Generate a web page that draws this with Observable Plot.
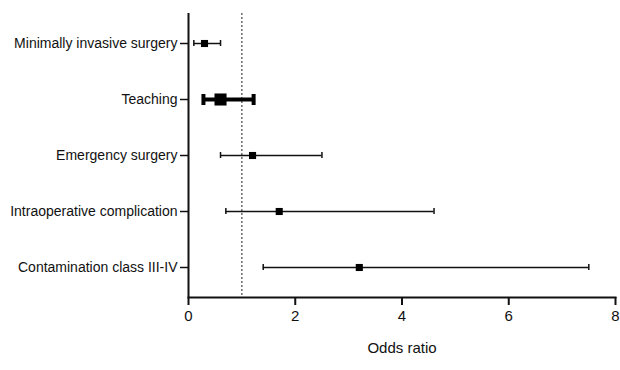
<!DOCTYPE html>
<html>
<head>
<meta charset="utf-8">
<script src="https://cdn.jsdelivr.net/npm/d3@7"></script>
<script src="https://cdn.jsdelivr.net/npm/@observablehq/plot@0.6"></script>
<style>
  body { margin: 0; background: #fff; }
  svg { font-family: "Liberation Sans", Arial, sans-serif; }
</style>
</head>
<body>
<div id="chart"></div>
<script>
const factors = ["Minimally invasive surgery", "Teaching", "Emergency surgery", "Intraoperative complication", "Contamination class III-IV"];
const oddsRatio = [0.3, 0.6, 1.2, 1.7, 3.2];
const ciLower = [0.1, 0.28, 0.6, 0.7, 1.4];
const ciUpper = [0.6, 1.22, 2.5, 4.6, 7.5];
const xTicks = [0, 2, 4, 6, 8];
const referenceOR = 1;
const emphasized = "Teaching";

const rows = factors.map((f, i) => ({factor: f, or: oddsRatio[i], lo: ciLower[i], hi: ciUpper[i]}));
const normal = rows.filter(d => d.factor !== emphasized);
const bold = rows.filter(d => d.factor === emphasized);

const chart = Plot.plot({
  width: 620,
  height: 370,
  marginLeft: 188,
  marginRight: 5,
  marginTop: 13,
  marginBottom: 73,
  style: {fontSize: "14px", fontFamily: "'Liberation Sans', Arial, sans-serif", color: "#111"},
  x: {domain: [0, 8], ticks: xTicks},
  y: {domain: factors, type: "band", padding: 0},
  marks: [
    Plot.ruleX([referenceOR], {stroke: "#222", strokeWidth: 1, strokeDasharray: "2,2"}),
    Plot.ruleY(normal, {y: "factor", x1: "lo", x2: "hi", stroke: "#111", strokeWidth: 1.5}),
    Plot.tickX(normal, {y: "factor", x: "lo", stroke: "#111", strokeWidth: 1.5, insetTop: 25, insetBottom: 25}),
    Plot.tickX(normal, {y: "factor", x: "hi", stroke: "#111", strokeWidth: 1.5, insetTop: 25, insetBottom: 25}),
    Plot.dot(normal, {y: "factor", x: "or", symbol: "square", r: 4, fill: "#000", stroke: "none"}),
    Plot.ruleY(bold, {y: "factor", x1: "lo", x2: "hi", stroke: "#000", strokeWidth: 4}),
    Plot.tickX(bold, {y: "factor", x: "lo", stroke: "#000", strokeWidth: 4, insetTop: 23, insetBottom: 22}),
    Plot.tickX(bold, {y: "factor", x: "hi", stroke: "#000", strokeWidth: 4, insetTop: 23, insetBottom: 22}),
    Plot.dot(bold, {y: "factor", x: "or", symbol: "square", r: 6.8, fill: "#000", stroke: "none"}),
    Plot.frame({anchor: "bottom", stroke: "#111", strokeWidth: 2}),
    Plot.ruleX([0], {stroke: "#111", strokeWidth: 2}),
    Plot.axisX({ticks: xTicks, tickSize: 8, tickPadding: 5, label: null, stroke: "#111", strokeWidth: 2, fontSize: 15}),
    Plot.axisY({tickSize: 8, tickPadding: 3, label: null, stroke: "#111", strokeWidth: 1.5, fontSize: 14}),
    Plot.text(["Odds ratio"], {frameAnchor: "bottom", dy: 55, fontSize: 15, fill: "#111"})
  ]
});
document.getElementById("chart").appendChild(chart);
</script>
</body>
</html>
